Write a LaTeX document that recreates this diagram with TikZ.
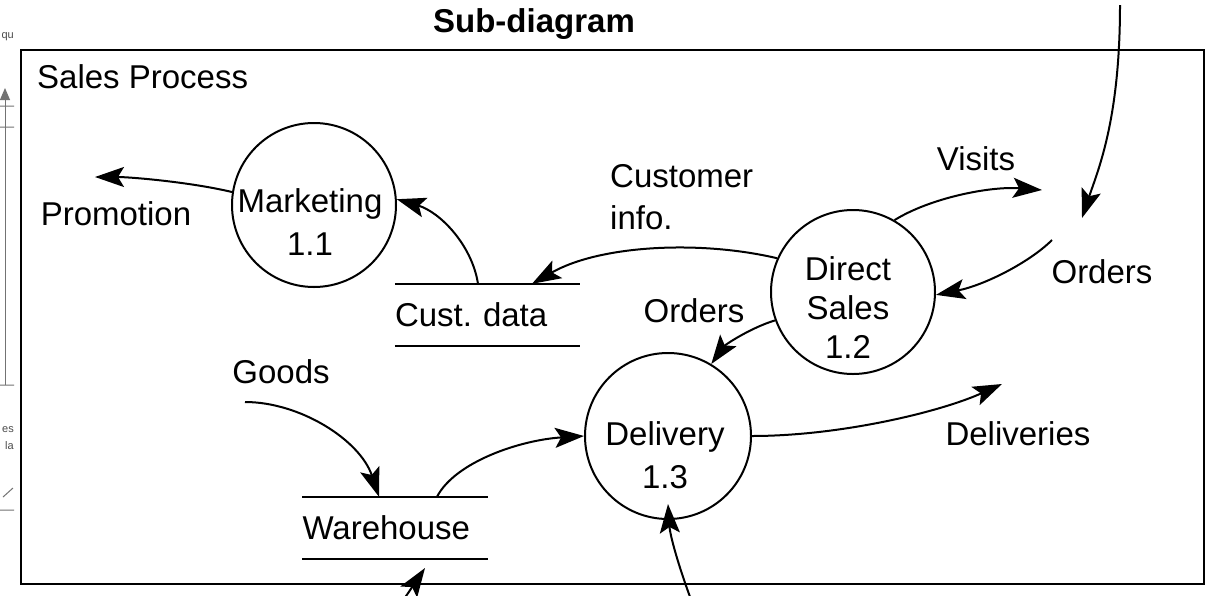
\documentclass[tikz,border=0pt]{standalone}
\usepackage{fontspec}
\setmainfont{Liberation Sans}
\usetikzlibrary{arrows.meta}
\frenchspacing
\begin{document}
\begin{tikzpicture}[x=1pt,y=-1pt,
  lbl/.style={font=\fontsize{33}{40}\selectfont, inner sep=0pt},
  proc/.style={circle, draw, line width=2pt, minimum size=164pt, inner sep=0pt},
  store/.style={minimum width=185pt, minimum height=62pt, inner sep=0pt, text width=185pt, align=left, font=\fontsize{33}{40}\selectfont},
  storeline/.style={line width=2.5pt},
  flow/.style={line width=2pt, -{Stealth[length=29pt,width=20pt,inset=6pt]}},
  frag/.style={black!55, line width=1pt},
  fragtxt/.style={black!70, font=\fontsize{11}{12}\selectfont, inner sep=0pt},
]
\useasboundingbox (0,0) rectangle (1229,595);
\fill[white] (0,0) rectangle (1229,595);

% fragments at the left edge
\draw[frag, -{Triangle[length=12pt,width=10pt]}] (5,385) -- (5,88);
\draw[frag] (0,106) -- (14,106) (0,127) -- (14,127) (0,385) -- (14,385) (0,510) -- (14,510) (3,497) -- (13,488);
\node[fragtxt, anchor=base east] (fq) at (14,38) {qu};
\node[fragtxt, anchor=base east] (fe) at (14,432) {es};
\node[fragtxt, anchor=base east] (fl) at (14,449) {la};

% frame
\draw[line width=2.5pt] (21,50) rectangle (1204,584);
\node[lbl, anchor=base west] (sp) at (37,88) {Sales Process};
\node[lbl, anchor=base] (title) at (534,32) {\bfseries Sub-diagram};

% processes
\node[proc] (mkt) at (314,205) {};
\node[proc] (ds) at (853,292) {};
\node[proc, minimum size=166pt] (del) at (668,436) {};
\node[lbl, align=center, font=\fontsize{33}{43}\selectfont] (mktT) at (310,221.7) {Marketing\\1.1};
\node[lbl, align=center, font=\fontsize{33}{39}\selectfont] (dsT) at (848,307.2) {Direct\\Sales\\1.2};
\node[lbl, align=center, font=\fontsize{33}{43}\selectfont] (delT) at (665,454.7) {Delivery\\1.3};

% data stores
\node[store] (cust) at (487.5,315) {Cust. data};
\draw[storeline] (cust.north west) -- (cust.north east) (cust.south west) -- (cust.south east);
\node[store] (wh) at (395,528) {Warehouse};
\draw[storeline] (wh.north west) -- (wh.north east) (wh.south west) -- (wh.south east);

% labels
\node[lbl, anchor=base] (promo) at (116,225) {Promotion};
\node[lbl, anchor=west, align=left, font=\fontsize{33}{42}\selectfont] (cinfo) at (610,197) {Customer\\info.};
\node[lbl, anchor=base] (ordM) at (694,322) {Orders};
\node[lbl, anchor=base] (visits) at (976,170) {Visits};
\node[lbl, anchor=base] (ordR) at (1102,283) {Orders};
\node[lbl, anchor=base] (goods) at (281,383) {Goods};
\node[lbl, anchor=base] (deliv) at (1018,445) {Deliveries};

% free ends
\coordinate (pTip) at (95,177);
\coordinate (visTip) at (1042,190);
\coordinate (oTop) at (1120,5);
\coordinate (oTip) at (1082,218);
\coordinate (oRs) at (1052,240);
\coordinate (gS) at (245,402);
\coordinate (dTip) at (1002,384);
\coordinate (bIn) at (693,605);
\coordinate (bIn2) at (398,608);
\coordinate (bTip2) at (425,568);

% flows
\draw[flow] (mkt.171) .. controls (190,182) and (130,177) .. (pTip);
\draw[flow] ([xshift=-9.5pt]cust.north) .. controls (472,245) and (440,212) .. (mkt.4);
\draw[flow] (ds.156) .. controls (700,240) and (600,245) .. ([xshift=44.5pt]cust.north);
\draw[flow] (ds.200) .. controls (750,328) and (725,345) .. (del.59);
\draw[flow] (ds.60) .. controls (930,198) and (990,186) .. (visTip);
\draw[flow] (oTop) .. controls (1120,120) and (1098,170) .. (oTip);
\draw[flow] (oRs) .. controls (1030,262) and (985,285) .. (ds.-2);
\draw[flow] (gS) .. controls (300,402) and (360,440) .. ([xshift=-16pt]wh.north);
\draw[flow] ([xshift=42pt]wh.north) .. controls (455,462) and (520,440) .. (del.180);
\draw[flow] (del.0) .. controls (840,436) and (940,412) .. (dTip);
\draw[flow] (bIn) .. controls (678,565) and (670,535) .. ([yshift=16pt]del.south);
\draw[flow] (bIn2) -- (bTip2);
\end{tikzpicture}
\end{document}
